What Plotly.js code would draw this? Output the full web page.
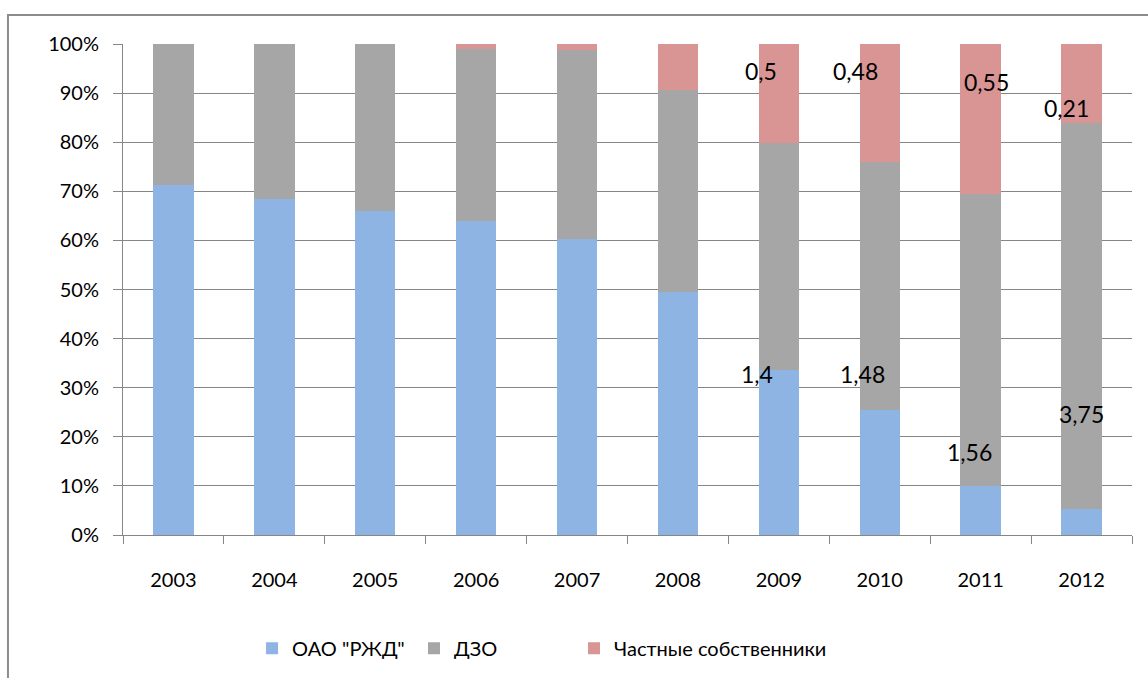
<!DOCTYPE html>
<html>
<head>
<meta charset="utf-8">
<script src="https://cdn.plot.ly/plotly-3.0.1.min.js"></script>
<style>
  html, body { margin: 0; padding: 0; background: #ffffff; }
  #chart { width: 1148px; height: 678px; }
</style>
</head>
<body>
<div id="chart"></div>
<script>
// ---- data (percent share) ----
const years = ['2003', '2004', '2005', '2006', '2007', '2008', '2009', '2010', '2011', '2012'];
const rzd = [71.2, 68.4, 66.0, 64.0, 60.2, 49.5, 33.7, 25.4, 10.0, 5.3];
const dzo = [28.8, 31.6, 34.0, 34.9, 38.5, 41.1, 46.1, 50.5, 59.4, 78.6];
const privateOwners = [0, 0, 0, 1.1, 1.3, 9.4, 20.2, 24.1, 30.6, 16.1];
const seriesNames = ['ОАО "РЖД"', 'ДЗО', 'Частные собственники'];

// data labels (text shown on chart)
const privateLabelYears = ['2009', '2010', '2011', '2012'];
const privateLabels = ['0,5', '0,48', '0,55', '0,21'];
const dzoLabelYears = ['2009', '2010', '2011', '2012'];
const dzoLabels = ['1,4', '1,48', '1,56', '3,75'];

const FONT = 'Lato, sans-serif';
const colors = ['#8EB4E3', '#A6A6A6', '#D99594'];
const legendIds = ['legend', 'legend2', 'legend3'];
const legendX = [0.1279, 0.2884, 0.447];

const traces = [rzd, dzo, privateOwners].map(function (vals, i) {
  return { type: 'bar', name: seriesNames[i], x: years.slice(), y: vals.slice(),
    marker: { color: colors[i] }, legend: legendIds[i] };
});

// label placement (layout only): [y position, pixel x shift]
const privatePos = [[94.5, -18], [94.5, -24], [92.3, 6], [87.0, -15]];
const dzoPos = [[32.7, -22], [32.7, -17], [16.9, -11], [24.6, 0]];

const annotations = [];
privateLabels.forEach(function (t, i) {
  annotations.push({ x: years.indexOf(privateLabelYears[i]), y: privatePos[i][0], xref: 'x', yref: 'y',
    text: t, showarrow: false, xshift: privatePos[i][1], font: { family: FONT, size: 23, color: '#000000' } });
});
dzoLabels.forEach(function (t, i) {
  annotations.push({ x: years.indexOf(dzoLabelYears[i]), y: dzoPos[i][0], xref: 'x', yref: 'y',
    text: t, showarrow: false, xshift: dzoPos[i][1], font: { family: FONT, size: 23, color: '#000000' } });
});

const layout = {
  width: 1148, height: 678,
  margin: { l: 123, r: 16, t: 44, b: 142 },
  paper_bgcolor: '#ffffff', plot_bgcolor: '#ffffff',
  barmode: 'stack', bargap: 0.6,
  font: { family: FONT, size: 20, color: '#000000' },
  showlegend: true,
  xaxis: {
    type: 'category', categoryorder: 'array', categoryarray: years.slice(), range: [-0.5, 9.5],
    tickson: 'boundaries', ticks: 'outside', ticklen: 8, tickcolor: '#868686', tickwidth: 1,
    showline: true, linecolor: '#868686', linewidth: 1, showgrid: false,
    ticklabelstandoff: 27,
    tickfont: { family: FONT, size: 20, color: '#000000' }
  },
  yaxis: {
    range: [0, 100], dtick: 10, ticksuffix: '%',
    ticks: 'outside', ticklen: 9, tickcolor: '#868686', tickwidth: 1,
    showline: true, linecolor: '#868686', linewidth: 1,
    showgrid: true, gridcolor: '#868686', gridwidth: 1, zeroline: false,
    ticklabelstandoff: 10,
    tickfont: { family: FONT, size: 20, color: '#000000' }
  },
  shapes: [{
    type: 'rect', xref: 'paper', yref: 'paper',
    x0: -0.114, x1: 1.05, y0: -0.36, y1: 1.059,
    line: { color: '#8C8C8C', width: 2 }, fillcolor: 'rgba(0,0,0,0)', layer: 'below'
  }],
  annotations: annotations
};
legendIds.forEach(function (id, i) {
  layout[id] = {
    orientation: 'h', x: legendX[i], xanchor: 'left', y: -0.228, yanchor: 'middle',
    bgcolor: 'rgba(0,0,0,0)', font: { family: FONT, size: 20, color: '#000000' }
  };
});

Plotly.newPlot('chart', traces, layout, { displayModeBar: false });
</script>
</body>
</html>
